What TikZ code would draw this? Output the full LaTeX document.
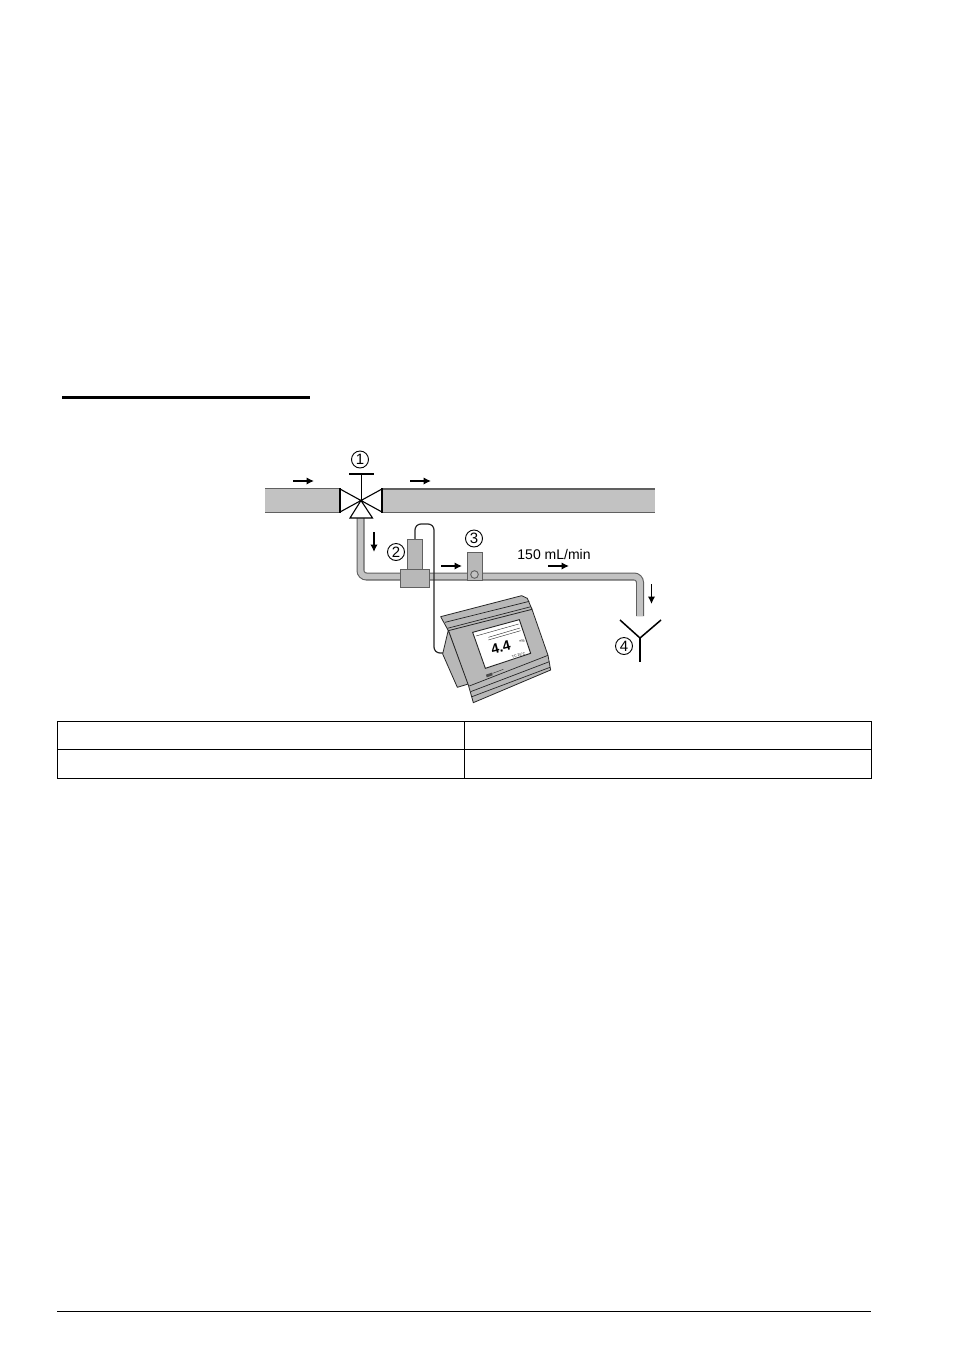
\documentclass[tikz,border=0pt]{standalone}
\usepackage{fontspec}
\setmainfont{Liberation Sans}
\usetikzlibrary{arrows.meta}
\definecolor{pipegray}{HTML}{C2C2C2}
\definecolor{edgegray}{HTML}{606060}
\definecolor{boxgray}{HTML}{B8B8B8}
\tikzset{
  flow/.style={-{Latex[length=7.5pt,width=7.5pt]},line width=1.7pt,black},
  num/.style={circle,draw=black,line width=0.9pt,inner sep=0pt,minimum size=17pt,font=\fontsize{15}{15}\selectfont},
  pipeedge/.style={line width=8pt,edgegray,rounded corners=6pt},
  pipefill/.style={line width=5.8pt,pipegray,rounded corners=6pt},
  bigpipe/.style={fill=pipegray,draw=none},
  piperule/.style={edgegray,line width=1.1pt},
  valve/.style={fill=white,draw=black,line width=1.1pt,line join=miter},
  boxpart/.style={fill=boxgray,draw=edgegray,line width=1pt},
  dev/.style={fill=boxgray,draw=black!85,line width=0.8pt,line join=round},
  devline/.style={draw=black!85,line width=0.7pt},
  tbl/.style={draw=black,line width=0.8pt}
}
\begin{document}
\begin{tikzpicture}[x=1pt,y=-1pt]
\useasboundingbox (0,0) rectangle (953,1352);
\fill[white] (0,0) rectangle (953,1352);
% heading rule and footer rule
\coordinate (ulA) at (62,397.5); \coordinate (ulB) at (310,397.5);
\draw[black,line width=2.1pt] (ulA) -- (ulB);
\coordinate (ftA) at (57,1311); \coordinate (ftB) at (871,1311);
\draw[black,line width=0.8pt] (ftA) -- (ftB);
% table
\draw[tbl] (57,721) rectangle (871,778);
\draw[tbl] (57,749.5) -- (871,749.5);
\draw[tbl] (464,721) -- (464,778);
% main pipe
\fill[bigpipe] (265,489) rectangle (341,512);
\fill[bigpipe] (381,489.5) rectangle (655,512);
\draw[piperule] (265,488.5) -- (341,488.5) (265,512.3) -- (341,512.3);
\draw[piperule] (381,489) -- (655,489) (381,512.3) -- (655,512.3);
% sample line
\draw[pipeedge] (360.5,518) -- (360.5,576.5) -- (640,576.5) -- (640,616);
\draw[pipefill] (360.5,517) -- (360.5,576.5) -- (640,576.5) -- (640,616);
% valve
\draw[valve] (340,489) -- (361,500.5) -- (340,512) -- cycle;
\draw[valve] (382,489) -- (361,500.5) -- (382,512) -- cycle;
\draw[valve] (361,500.5) -- (350,518) -- (372.5,518) -- cycle;
\draw[black,line width=1.8pt] (340,488) -- (340,513);
\draw[black,line width=1.8pt] (382,488) -- (382,513);
\coordinate (stemA) at (361,500); \coordinate (stemB) at (361,474);
\draw[black,line width=1pt] (stemA) -- (stemB);
\draw[black,line width=1.7pt] (349,474) -- (373.5,474);
\node[num] (n1) at (360,459.5) {1};
% sensor wire
\coordinate (wTop) at (415,539);
\coordinate (wEnd) at (444,653);
\draw[black!85,line width=1.2pt,rounded corners=6pt] (wTop) -- (415,524) -- (434,524) -- (434,653) -- (wEnd);
% sensor
\draw[boxpart] (407,539) rectangle (422,569);
\draw[boxpart] (400,569) rectangle (429,587);
\node[num] (n2) at (396,552) {2};
% flow meter
\draw[boxpart] (467,552) rectangle (482,580.5);
\draw[edgegray,line width=0.9pt,fill=pipegray] (474.5,574.5) circle (3.8);
\node[num] (n3) at (474,538.5) {3};
% arrows
\coordinate (a1) at (293,481); \coordinate (a1e) at (314,481);
\coordinate (a2) at (410,481); \coordinate (a2e) at (431,481);
\coordinate (a3) at (374,532); \coordinate (a3e) at (374,552);
\coordinate (a4) at (441,566); \coordinate (a4e) at (462,566);
\coordinate (a5) at (548,566); \coordinate (a5e) at (569,566);
\coordinate (a6) at (651.5,584); \coordinate (a6e) at (651.5,604);
\draw[flow] (a1) -- (a1e);
\draw[flow] (a2) -- (a2e);
\draw[flow] (a3) -- (a3e);
\draw[flow] (a4) -- (a4e);
\draw[flow] (a5) -- (a5e);
\draw[flow] (a6) -- (a6e);
\node[font=\fontsize{14}{14}\selectfont,inner sep=0pt] (rate) at (554,554) {150 mL/min};
% drain
\coordinate (yC) at (640,638);
\draw[black,line width=1.5pt] (620,620) -- (yC) -- (661,620);
\draw[black,line width=1.5pt] (yC) -- (640,662);
\node[num] (n4) at (624,646) {4};
% instrument (coordinates are in the 3x crop frame)
\begin{scope}[shift={(420,580)},x=0.3333pt,y=-0.3333pt]
  % rear side
  \draw[dev] (85,150) -- (68,222) -- (112,322) -- (145,312) -- cycle;
  % body front
  \draw[dev] (85,150) -- (335,85) -- (384,226) -- (392,270) -- (160,368) -- (145,315) -- cycle;
  % lid
  \draw[dev] (62,110) -- (305,47) -- (322,55) -- (336,88) -- (85,152) -- cycle;
  \draw[devline] (75,127) -- (328,64);
  \draw[devline] (82,145) -- (333,80);
  % lower band
  \draw[devline] (148,318) -- (384,226);
  \draw[devline] (152,335) -- (388,245);
  \draw[devline] (156,350) -- (390,262);
  % screen
  \draw[fill=white,draw=black!85,line width=0.9pt] (158,157) -- (298,119) -- (332,220) -- (196,265) -- cycle;
  \draw[devline,line width=0.4pt] (168,168) -- (296,132);
  \draw[devline,line width=0.4pt] (205,180) -- (302,152);
  \draw[devline,line width=0.4pt] (205,172) -- (300,144);
  \node[rotate=15,font=\bfseries\fontsize{14}{14}\selectfont,inner sep=0pt] (dval) at (242,203) {4.4};
  \node[rotate=15,font=\fontsize{3.5}{4}\selectfont,inner sep=0pt] (dunit) at (306,183) {mS};
  \node[rotate=15,font=\fontsize{3.5}{4}\selectfont,inner sep=0pt] (dtemp) at (296,226) {TC 25°C};
  % small controls
  \fill[black!70] (198,284) -- (216,278) -- (218,286) -- (200,292) -- cycle;
  \draw[devline,line width=0.4pt] (218,280) -- (250,268);
\end{scope}
\end{tikzpicture}
\end{document}
